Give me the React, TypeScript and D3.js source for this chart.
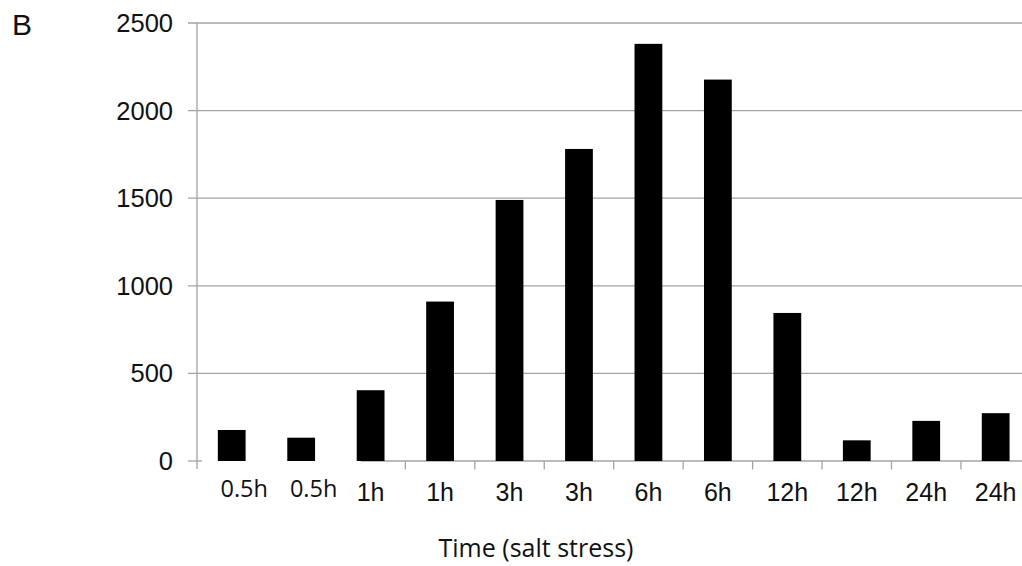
import React from "react";
import * as d3 from "d3";

const categories = ["0.5h", "0.5h", "1h", "1h", "3h", "3h", "6h", "6h", "12h", "12h", "24h", "24h"];
const values = [177, 133, 404, 910, 1490, 1781, 2381, 2177, 845, 118, 229, 273];
const yTicks = [0, 500, 1000, 1500, 2000, 2500];
const panelLabel = "B";
const xTitle = "Time (salt stress)";

const W = 1022;
const H = 566;
const left = 197;
const band = 69.45;
const top = 23;
const bottom = 461;
const grid = "#a3a3a3";

export default function App() {
  const x = d3
    .scaleBand<number>()
    .domain(d3.range(categories.length))
    .range([left, left + band * categories.length])
    .paddingInner(0)
    .paddingOuter(0);
  const y = d3.scaleLinear().domain([0, 2500]).range([bottom, top]);
  const bw = x.bandwidth();
  const barW = bw * 0.4;

  return (
    <svg
      width={W}
      height={H}
      style={{ position: "absolute", left: 0, top: 0, background: "#fff" }}
    >
      <rect x={0} y={0} width={W} height={H} fill="#fff" />
      {/* gridlines */}
      {yTicks.filter((t) => t > 0).map((t) => (
        <line key={"g" + t} x1={left - 9} x2={W} y1={y(t)} y2={y(t)} stroke={grid} strokeWidth={1.3} />
      ))}
      {/* y axis */}
      <line x1={left} x2={left} y1={y(2500)} y2={bottom + 8} stroke={grid} strokeWidth={1.3} />
      <line x1={left - 9} x2={left + 5} y1={y(0)} y2={y(0)} stroke={grid} strokeWidth={1.3} />
      {/* x axis (partial, as in the reference) */}
      <line x1={(x(2) as number) + bw * 0.36} x2={W} y1={y(0)} y2={y(0)} stroke={grid} strokeWidth={1.3} />
      {d3.range(3, categories.length).map((i) => (
        <line key={"t" + i} x1={x(i) as number} x2={x(i) as number} y1={y(0)} y2={y(0) + 8.5} stroke={grid} strokeWidth={1.3} />
      ))}
      {/* bars */}
      {values.map((v, i) => (
        <rect
          key={"b" + i}
          x={(x(i) as number) + (bw - barW) / 2}
          y={y(v)}
          width={barW}
          height={y(0) - y(v)}
          fill="#000"
        />
      ))}
      {/* y tick labels */}
      {yTicks.map((t) => (
        <text
          key={"yl" + t}
          x={173}
          y={y(t) + 9}
          textAnchor="end"
          fontFamily="'Liberation Sans', Arial, sans-serif"
          fontSize={25.5}
          fill="#111"
        >
          {t}
        </text>
      ))}
      {/* x tick labels */}
      {categories.map((c, i) => {
        const cx = (x(i) as number) + bw / 2;
        const alt = c === "0.5h";
        return (
          <text
            key={"xl" + i}
            x={alt ? cx + 12.5 : cx}
            y={alt ? 497 : 501}
            textAnchor="middle"
            fontFamily={alt ? "'Open Sans', sans-serif" : "'Liberation Sans', Arial, sans-serif"}
            fontSize={alt ? 23.5 : 25}
            fill="#111"
          >
            {c}
          </text>
        );
      })}
      {/* axis title */}
      <text
        x={536}
        y={557}
        textAnchor="middle"
        fontFamily="'Open Sans', sans-serif"
        fontSize={25}
        fill="#111"
      >
        {xTitle}
      </text>
      {/* panel label */}
      <text x={12} y={35} fontFamily="'Liberation Sans', Arial, sans-serif" fontSize={30} fill="#111">
        {panelLabel}
      </text>
    </svg>
  );
}
